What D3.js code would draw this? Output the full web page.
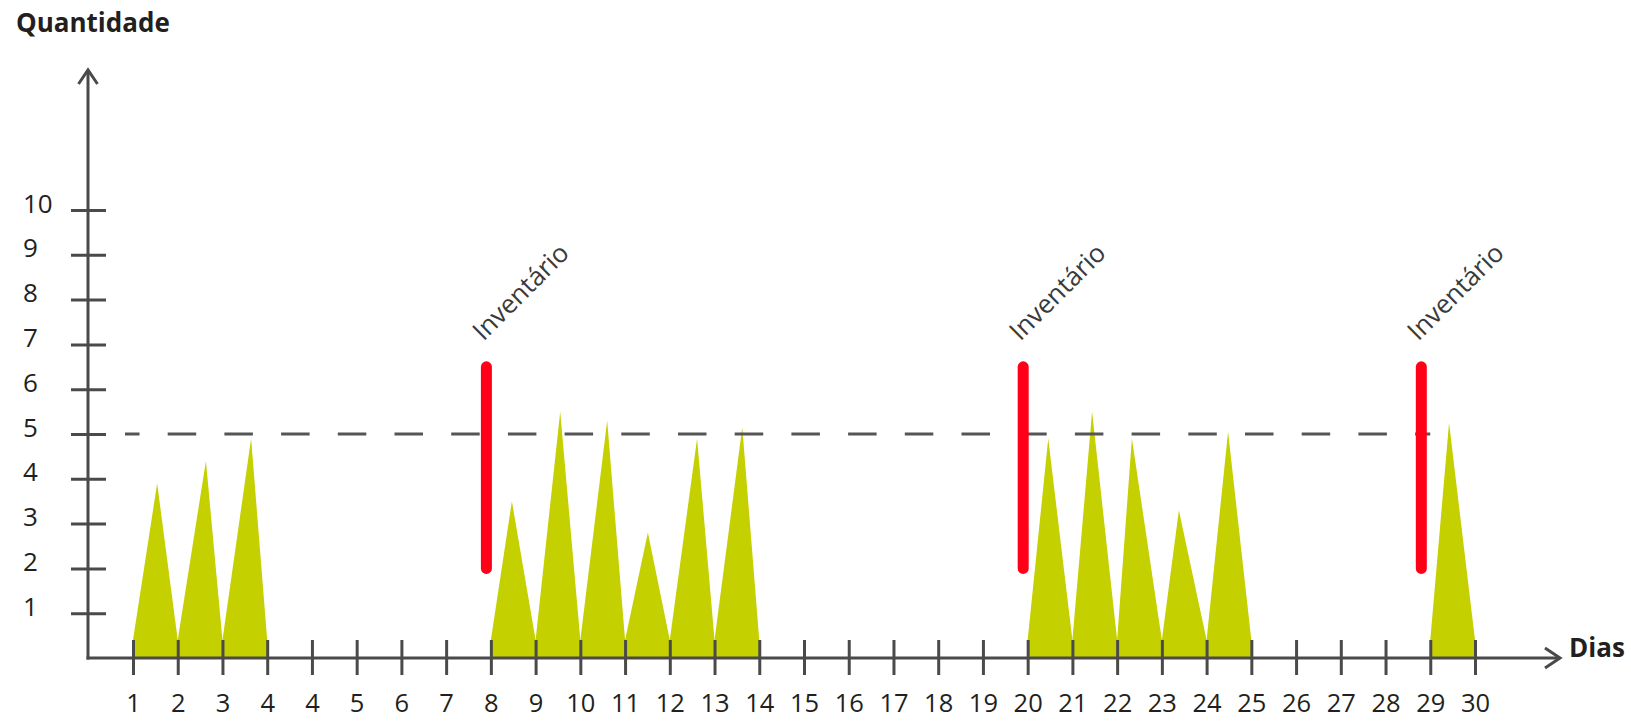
<!DOCTYPE html>
<html lang="pt">
<head>
<meta charset="utf-8">
<title>Quantidade por dia</title>
<script src="https://cdn.jsdelivr.net/npm/d3@7"></script>
<style>
  html, body { margin: 0; padding: 0; background: #ffffff; }
  svg { display: block; }
  text { font-family: "Open Sans", "Noto Sans", sans-serif; fill: #231f20; }
</style>
</head>
<body>
<svg id="chart" width="1631" height="721"></svg>
<script>
// Day labels under each tick of the horizontal axis (the "4" appears twice)
const dayLabels = ["1","2","3","4","4","5","6","7","8","9","10","11","12","13","14","15",
                   "16","17","18","19","20","21","22","23","24","25","26","27","28","29","30"];
// Quantity ticks on the vertical axis
const qtyTicks = [1,2,3,4,5,6,7,8,9,10];

// Peaks: tick index where each peak starts, position of its apex, and the quantity reached
const peakStart = [0, 1, 2, 8, 9, 10, 11, 12, 13, 20, 21, 22, 23, 24, 29];
const peakAt    = [0.54, 1.63, 2.64, 8.47, 9.55, 10.60, 11.51, 12.61, 13.62,
                   20.46, 21.44, 22.33, 23.38, 24.48, 29.42];
const peakQty   = [3.9, 4.4, 4.9, 3.5, 5.5, 5.3, 2.8, 4.9, 5.15,
                   4.9, 5.5, 4.9, 3.3, 5.05, 5.25];

// Inventory events (position on the day axis) and the range each red bar covers
const inventoryAt = [7.9, 19.9, 28.8];
const inventoryLabel = ["Inventário", "Inventário", "Inventário"];
const inventoryLow = 2;
const inventoryHigh = 6.5;

// Reference quantity drawn as a dashed line, up to the given tick index
const limitQty = 5;
const limitEnd = 29;

// ---- layout ----
const svg = d3.select("#chart");
const axisColor = "#4a4a4a";
const green = "#c4d000";
const red = "#ff0018";

const x = d3.scaleLinear().domain([0, dayLabels.length - 1]).range([133, 1475]);
const y = d3.scaleLinear().domain([0, 10]).range([658, 210]);
const originX = 88;
const baseLift = 0.4;   // peaks sit on a short block above the axis

// Peaks
const peaks = peakStart.map((s, i) => ({ s, at: peakAt[i], q: peakQty[i] }));
svg.append("g").selectAll("path")
  .data(peaks)
  .join("path")
  .attr("fill", green)
  .attr("d", d => {
    const pts = [
      [x(d.s), y(0)],
      [x(d.s), y(baseLift)],
      [x(d.at), y(d.q)],
      [x(d.s + 1), y(baseLift)],
      [x(d.s + 1), y(0)]
    ];
    return d3.line()(pts) + "Z";
  });

// Dashed reference line
svg.append("line")
  .attr("x1", 125).attr("x2", x(limitEnd))
  .attr("y1", y(limitQty)).attr("y2", y(limitQty))
  .attr("stroke", "#555")
  .attr("stroke-width", 3)
  .attr("stroke-dasharray", "28.5 28.2")
  .attr("stroke-dashoffset", 14);

// Inventory bars
svg.append("g").selectAll("line")
  .data(inventoryAt)
  .join("line")
  .attr("x1", d => x(d)).attr("x2", d => x(d))
  .attr("y1", y(inventoryHigh)).attr("y2", y(inventoryLow))
  .attr("stroke", red)
  .attr("stroke-width", 11)
  .attr("stroke-linecap", "round");

// Inventory labels
svg.append("g").selectAll("text")
  .data(inventoryAt)
  .join("text")
  .attr("transform", d => `translate(${x(d) - 3},${y(inventoryHigh) - 25}) rotate(-45)`)
  .attr("font-size", 26)
  .style("fill", "#3a3a3a")
  .text((d, i) => inventoryLabel[i]);

// Horizontal axis
const xAxis = d3.axisBottom(x)
  .tickValues(d3.range(dayLabels.length))
  .tickFormat(i => dayLabels[i])
  .tickSize(0);
const gx = svg.append("g").attr("transform", `translate(0,${y(0)})`).call(xAxis);
gx.select(".domain").remove();
gx.selectAll(".tick line")
  .attr("y1", -18).attr("y2", 17)
  .attr("stroke", axisColor).attr("stroke-width", 3);
gx.selectAll(".tick text")
  .attr("y", 54).attr("dy", null)
  .attr("font-size", 25.5)
  .style("fill", "#231f20");

// Vertical axis
const yAxis = d3.axisLeft(y)
  .tickValues(qtyTicks)
  .tickFormat(d3.format("d"))
  .tickSize(0);
const gy = svg.append("g").attr("transform", `translate(${originX},0)`).call(yAxis);
gy.select(".domain").remove();
gy.selectAll(".tick line")
  .attr("x1", -17).attr("x2", 18)
  .attr("stroke", axisColor).attr("stroke-width", 3);
gy.selectAll(".tick text")
  .attr("x", 23 - originX).attr("dy", null).attr("y", 2)
  .attr("text-anchor", "start")
  .attr("font-size", 26)
  .style("fill", "#231f20");

// Axis lines with open arrowheads
const axisG = svg.append("g")
  .attr("stroke", axisColor).attr("stroke-width", 3).attr("fill", "none")
  .attr("stroke-linecap", "butt");
axisG.append("path").attr("d", d3.line()([[originX, y(0) + 1.5], [originX, 70]]));
axisG.append("path").attr("d", d3.line()([[originX - 9.5, 84], [originX, 70], [originX + 9.5, 84]]));
axisG.append("path").attr("d", d3.line()([[originX - 1.5, y(0)], [1560, y(0)]]));
axisG.append("path").attr("d", d3.line()([[1545, y(0) - 10], [1560, y(0)], [1545, y(0) + 10]]));

// Axis titles
svg.append("text")
  .attr("x", 16).attr("y", 32)
  .attr("font-size", 26).attr("font-weight", 700)
  .text("Quantidade");
svg.append("text")
  .attr("x", 1569).attr("y", 657)
  .attr("font-size", 26).attr("font-weight", 700)
  .text("Dias");
</script>
</body>
</html>
